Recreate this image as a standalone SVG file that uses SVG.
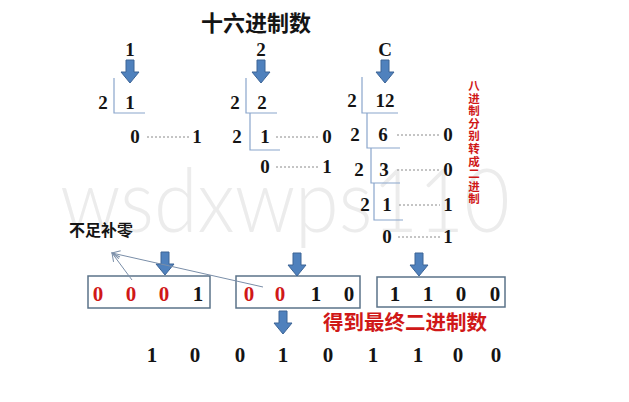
<svg xmlns="http://www.w3.org/2000/svg" width="629" height="402" viewBox="0 0 629 402">
<defs>
<style>
.d{font-family:"Liberation Serif","Times New Roman",serif;font-weight:bold;font-size:19px;fill:#141414;text-anchor:middle}
.b{font-size:21px}
.r{fill:#d01818}
.cj{font-family:"Noto Sans CJK SC",sans-serif;font-weight:bold}
.br{fill:none;stroke:#8aa6cc;stroke-width:1.2}
.dot{fill:none;stroke:#8a8a8a;stroke-width:1;stroke-dasharray:2,2}
.box{fill:none;stroke:#5b7389;stroke-width:1.5}
.arr{fill:#4f81bd;stroke:#3c6496;stroke-width:1}
.thin{fill:none;stroke:#7a8ea8;stroke-width:1}
</style>
<path id="ar" d="M-4,0 H4 V12 H9 L0,23 L-9,12 H-4 Z"/>
<marker id="oh" markerWidth="10" markerHeight="10" refX="9" refY="5" orient="auto" markerUnits="userSpaceOnUse"><path d="M1,1 L9,5 L1,9" fill="none" stroke="#7a8ea8" stroke-width="1"/></marker>
</defs>
<rect width="629" height="402" fill="#ffffff"/>
<text x="285" y="232" font-family="Lato,'Open Sans',sans-serif" font-weight="300" font-size="88" fill="#ececec" textLength="450" lengthAdjust="spacingAndGlyphs" text-anchor="middle">wsdxwps110</text>

<g id="title"><text x="256" y="31" class="cj" font-size="22" fill="#141414" text-anchor="middle">十六进制数</text></g>

<g id="col1">
<text x="130" y="56" class="d" font-size="18">1</text>
<use href="#ar" x="130" y="60" class="arr"/>
<text x="103" y="109" class="d">2</text><text x="130" y="109" class="d">1</text>
<path d="M114,78 V113 H145" class="br"/>
<text x="135" y="143" class="d">0</text><path d="M147,137 H190" class="dot"/><text x="197" y="143" class="d">1</text>
</g>

<g id="col2">
<text x="261" y="56" class="d" font-size="18">2</text>
<use href="#ar" x="261" y="60" class="arr"/>
<text x="235" y="109" class="d">2</text><text x="262" y="109" class="d">2</text>
<path d="M246,78 V113 H277" class="br"/>
<text x="237" y="143" class="d">2</text><text x="265" y="143" class="d">1</text>
<path d="M250,113 V150 H280" class="br"/>
<path d="M276,137 H319" class="dot"/><text x="327" y="143" class="d">0</text>
<text x="265" y="173" class="d">0</text><path d="M276,167 H318" class="dot"/><text x="327" y="173" class="d">1</text>
</g>

<g id="col3">
<text x="385" y="56" class="d" font-size="18">C</text>
<use href="#ar" x="385" y="60" class="arr"/>
<text x="352" y="107" class="d">2</text><text x="385" y="107" class="d">12</text>
<path d="M362,77 V113 H398" class="br"/>
<text x="355" y="141" class="d">2</text><text x="383" y="141" class="d">6</text>
<path d="M367,113 V148 H400" class="br"/>
<path d="M397,135 H440" class="dot"/><text x="448" y="141" class="d">0</text>
<text x="359" y="176" class="d">2</text><text x="384" y="176" class="d">3</text>
<path d="M371,148 V183 H400" class="br"/>
<path d="M397,170 H440" class="dot"/><text x="448" y="176" class="d">0</text>
<text x="365" y="211" class="d">2</text><text x="387" y="211" class="d">1</text>
<path d="M374,183 V220 H403" class="br"/>
<path d="M399,205 H440" class="dot"/><text x="448" y="211" class="d">1</text>
<text x="387" y="243" class="d">0</text><path d="M398,237 H440" class="dot"/><text x="448" y="243" class="d">1</text>
</g>

<g id="note-red">
<text class="cj" font-size="11.5" fill="#d01818" text-anchor="middle"><tspan x="474" y="90">八</tspan><tspan x="474" dy="12.6">进</tspan><tspan x="474" dy="12.6">制</tspan><tspan x="474" dy="12.6">分</tspan><tspan x="474" dy="12.6">别</tspan><tspan x="474" dy="12.6">转</tspan><tspan x="474" dy="12.6">成</tspan><tspan x="474" dy="12.6">二</tspan><tspan x="474" dy="12.6">进</tspan><tspan x="474" dy="12.6">制</tspan></text>
</g>

<g id="note-pad"><text x="69" y="236" class="cj" font-size="16" fill="#141414">不足补零</text></g>

<g id="box1">
<rect x="88" y="276" width="122" height="32" class="box"/>
<text x="98" y="301" class="d b r">0</text><text x="131" y="301" class="d b r">0</text><text x="164" y="301" class="d b r">0</text><text x="198" y="301" class="d b">1</text>
</g>
<g id="box2">
<rect x="236" y="276" width="124" height="32" class="box"/>
<text x="249" y="301" class="d b r">0</text><text x="280" y="301" class="d b r">0</text><text x="316" y="301" class="d b">1</text><text x="349" y="301" class="d b">0</text>
</g>
<g id="box3">
<rect x="377" y="277" width="128" height="30" class="box"/>
<text x="395" y="301" class="d b">1</text><text x="428" y="301" class="d b">1</text><text x="461" y="301" class="d b">0</text><text x="495" y="301" class="d b">0</text>
</g>

<g id="connectors">
<use href="#ar" x="165" y="252" class="arr"/>
<use href="#ar" x="297" y="253" class="arr"/>
<use href="#ar" x="419" y="253" class="arr"/>
<use href="#ar" x="283" y="311" class="arr"/>
<path d="M132,280 L112,253" class="thin" marker-end="url(#oh)"/>
<path d="M263,287 L112,253" class="thin" marker-end="url(#oh)"/>
</g>

<g id="result-label"><text x="405" y="330" class="cj" font-size="20.5" fill="#d01818" text-anchor="middle">得到最终二进制数</text></g>

<g id="result">
<text x="152" y="362" class="d b">1</text><text x="195" y="362" class="d b">0</text><text x="240" y="362" class="d b">0</text><text x="283" y="362" class="d b">1</text><text x="328" y="362" class="d b">0</text><text x="373" y="362" class="d b">1</text><text x="418" y="362" class="d b">1</text><text x="458" y="362" class="d b">0</text><text x="496" y="362" class="d b">0</text>
</g>
</svg>
